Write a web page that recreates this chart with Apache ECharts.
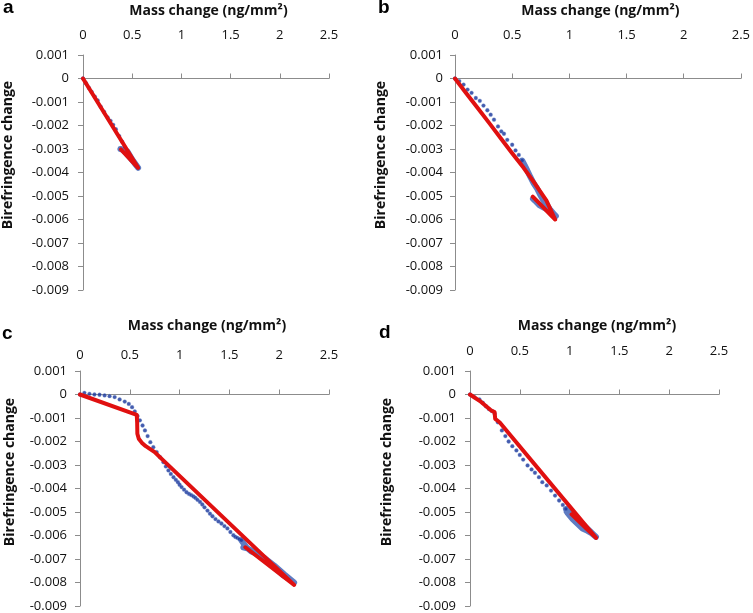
<!DOCTYPE html>
<html>
<head>
<meta charset="utf-8">
<script src="https://cdn.jsdelivr.net/npm/echarts@6/dist/echarts.min.js"></script>
<style>html,body{margin:0;padding:0;background:#fff}#c{width:753px;height:613px}</style>
</head>
<body>
<div id="c"></div>
<script>
// ---- data (x: mass change ng/mm², y: birefringence change) ----
const xTicks = [0, 0.5, 1, 1.5, 2, 2.5];
const yTicks = [0.001, 0, -0.001, -0.002, -0.003, -0.004, -0.005, -0.006, -0.007, -0.008, -0.009];
const panelLetters = ['a', 'b', 'c', 'd'];
const xTitle = 'Mass change (ng/mm²)';
const yTitle = 'Birefringence change';

// panel a
const aMeasured = [[0,0],[0.03,-0.0002],[0.06,-0.0004],[0.088,-0.00057],[0.12,-0.00077],[0.149,-0.00093],[0.18,-0.0012],[0.215,-0.00142],[0.25,-0.00165],[0.28,-0.0018],[0.307,-0.00197],[0.334,-0.00216],[0.368,-0.00245],[0.398,-0.00269],[0.426,-0.00293],[0.45,-0.0031],[0.48,-0.0033],[0.51,-0.0035],[0.54,-0.0037],[0.56,-0.0038]];
const aMeasuredDense = [[0.45,-0.0031],[0.5,-0.00345],[0.56,-0.0038],[0.52,-0.00358],[0.48,-0.00338],[0.44,-0.00318],[0.40,-0.00302],[0.38,-0.0030]];
const aModel = [[0,0],[0.56,-0.0038],[0.385,-0.00302]];

// panel b
const bMeasured = [[0,0],[0.0376,-0.00011],[0.075,-0.00026],[0.11,-0.00047],[0.145,-0.00061],[0.182,-0.00083],[0.217,-0.00095],[0.249,-0.00115],[0.283,-0.00135],[0.312,-0.00154],[0.341,-0.00175],[0.376,-0.00204],[0.405,-0.00225],[0.428,-0.00235],[0.457,-0.00261],[0.5,-0.00282],[0.529,-0.00306],[0.558,-0.00325],[0.587,-0.00349]];
const bMeasuredDense = [[0.587,-0.00349],[0.61,-0.0037],[0.63,-0.00389],[0.66,-0.0042],[0.688,-0.00446],[0.72,-0.0047],[0.746,-0.00496],[0.775,-0.0052],[0.804,-0.00538],[0.835,-0.0056],[0.861,-0.00574],[0.882,-0.00585],[0.86,-0.0058],[0.82,-0.0056],[0.78,-0.0055],[0.74,-0.0054],[0.70,-0.0052],[0.682,-0.00512]];
const bModel = [[0,0],[0.1,-0.00064],[0.2,-0.00127],[0.3,-0.0019],[0.4,-0.00254],[0.5,-0.00318],[0.6,-0.0038],[0.7,-0.00448],[0.8,-0.0052],[0.876,-0.006],[0.68,-0.00503]];

// panel c
const cMeasured = [[0,0],[0.044,0.00007],[0.095,0.00003],[0.145,0],[0.196,-0.00001],[0.247,-0.00004],[0.297,-0.00007],[0.348,-0.00011],[0.398,-0.00021],[0.449,-0.0003],[0.49,-0.0004],[0.523,-0.00054],[0.55,-0.00072],[0.578,-0.00092],[0.601,-0.0011],[0.628,-0.00132],[0.652,-0.00153],[0.679,-0.00177],[0.706,-0.00203],[0.736,-0.00224],[0.77,-0.00245],[0.804,-0.00267],[0.838,-0.00288],[0.862,-0.00306],[0.888,-0.00323],[0.912,-0.00338],[0.939,-0.00352],[0.962,-0.00363],[0.983,-0.00373],[1.0,-0.00384],[1.02,-0.00394],[1.045,-0.00405],[1.07,-0.00416],[1.095,-0.00423],[1.117,-0.00428],[1.14,-0.00434],[1.16,-0.0044],[1.18,-0.00448],[1.205,-0.00457],[1.228,-0.00468],[1.25,-0.0048],[1.28,-0.00494],[1.305,-0.00507],[1.33,-0.00518],[1.36,-0.0053],[1.39,-0.0054],[1.42,-0.00549],[1.45,-0.0056],[1.48,-0.0057],[1.51,-0.00585],[1.54,-0.00599],[1.56,-0.00606],[1.58,-0.0061],[1.6,-0.00615],[1.62,-0.0062]];
const cMeasuredDense = [[1.62,-0.0062],[1.67,-0.0065],[1.72,-0.00668],[1.77,-0.00677],[1.84,-0.007],[1.91,-0.0072],[1.98,-0.00745],[2.04,-0.00769],[2.1,-0.00785],[2.15,-0.008],[2.05,-0.00765],[1.95,-0.00728],[1.85,-0.00695],[1.75,-0.0067],[1.68,-0.00655],[1.64,-0.0065]];
const cModel = [[0,0],[0.57,-0.00087],[0.574,-0.0012],[0.576,-0.00167],[0.59,-0.00188],[0.62,-0.00205],[0.66,-0.0022],[0.75,-0.00245],[0.82,-0.00274],[2.15,-0.0081],[1.66,-0.0065]];

// panel d
const dMeasured = [[0,0],[0.044,-0.00011],[0.095,-0.00021],[0.128,-0.00035],[0.16,-0.0005],[0.19,-0.00062],[0.22,-0.0007],[0.247,-0.00082],[0.28,-0.00118],[0.32,-0.00153],[0.355,-0.00177],[0.388,-0.002],[0.425,-0.0022],[0.466,-0.00238],[0.5,-0.00257],[0.534,-0.00277],[0.578,-0.00302],[0.618,-0.00319],[0.652,-0.00333],[0.692,-0.00352],[0.726,-0.00373],[0.77,-0.00387],[0.814,-0.00409],[0.854,-0.0043],[0.895,-0.00451],[0.932,-0.0047],[0.963,-0.00487]];
const dMeasuredDense = [[0.963,-0.00487],[0.98,-0.00505],[1.03,-0.0053],[1.08,-0.0055],[1.13,-0.0057],[1.18,-0.0058],[1.22,-0.0059],[1.265,-0.00606],[1.2,-0.0058],[1.1,-0.0054],[1.0,-0.005],[0.97,-0.00498]];
const dModel = [[0,0],[0.1,-0.00028],[0.213,-0.00068],[0.247,-0.00075],[0.253,-0.00104],[0.297,-0.00118],[1.265,-0.0061],[1.02,-0.0051]];

// ---- layout ----
const grids = [
  {left: 80, top: 55, width: 249, height: 235, labelMargin: 13, nameGap: 37, yNameGap: 68, yLabelMargin: 14, yShift: 35},
  {left: 455, top: 55, width: 287, height: 235, labelMargin: 13, nameGap: 37, yNameGap: 67, yLabelMargin: 12, yShift: 35},
  {left: 80, top: 371, width: 249, height: 235, labelMargin: 9, nameGap: 38, yNameGap: 63, yLabelMargin: 13, yShift: 33},
  {left: 470, top: 371, width: 249, height: 235, labelMargin: 13, nameGap: 38, yNameGap: 76, yLabelMargin: 14, yShift: 33}
];
const panels = [
  [aMeasured, aMeasuredDense, aModel],
  [bMeasured, bMeasuredDense, bModel],
  [cMeasured, cMeasuredDense, cModel],
  [dMeasured, dMeasuredDense, dModel]
];
const letterPos = [[3, 8.5], [378, 8.5], [2, 334.5], [379, 333.5]];

const FONT = '"Open Sans", "Liberation Sans", sans-serif';
const AXIS_COLOR = '#8c8c8c';
const TEXT_COLOR = '#111';

const xStep = xTicks[1] - xTicks[0];
const yStep = yTicks[0] - yTicks[1];
const yMin = yTicks[yTicks.length - 1];
const yMax = yTicks[0];

const option = {
  animation: false,
  backgroundColor: '#fff',
  grid: grids.map(g => ({left: g.left, top: g.top, width: g.width, height: g.height, containLabel: false})),
  xAxis: [],
  yAxis: [],
  series: [],
  graphic: panelLetters.map((t, i) => ({
    type: 'text', left: letterPos[i][0], top: letterPos[i][1] - 10,
    style: {text: t, font: 'bold 19px "Liberation Sans", Arial, sans-serif', fill: '#000'}
  }))
};

grids.forEach((g, i) => {
  // labelled top axis
  option.xAxis.push({
    type: 'value', gridIndex: i, position: 'top',
    min: xTicks[0], max: xTicks[xTicks.length - 1], interval: xStep,
    name: xTitle, nameLocation: 'middle', nameGap: g.nameGap,
    nameTextStyle: {fontFamily: FONT, fontWeight: 'bold', fontSize: 14, color: TEXT_COLOR, padding: [0, 0, 0, 5]},
    axisLine: {show: false, onZero: false},
    axisTick: {show: false},
    splitLine: {show: false},
    axisLabel: {fontFamily: FONT, fontSize: 13, color: TEXT_COLOR, margin: g.labelMargin}
  });
  // axis line crossing at zero
  option.xAxis.push({
    type: 'value', gridIndex: i, position: 'bottom',
    min: xTicks[0], max: xTicks[xTicks.length - 1], interval: xStep,
    axisLine: {show: true, onZero: true, lineStyle: {color: AXIS_COLOR, width: 1}},
    axisTick: {show: true, inside: true, length: 5, lineStyle: {color: AXIS_COLOR}},
    axisLabel: {show: false},
    splitLine: {show: false}
  });
  option.yAxis.push({
    type: 'value', gridIndex: i,
    min: yMin, max: yMax, interval: yStep,
    name: yTitle, nameLocation: 'middle', nameGap: g.yNameGap,
    nameTextStyle: {fontFamily: FONT, fontWeight: 'bold', fontSize: 14, color: TEXT_COLOR, padding: [0, 0, 0, g.yShift]},
    axisLine: {show: true, onZero: false, lineStyle: {color: AXIS_COLOR, width: 1}},
    axisTick: {show: true, inside: false, length: 5, lineStyle: {color: AXIS_COLOR}},
    splitLine: {show: false},
    axisLabel: {fontFamily: FONT, fontSize: 13, color: TEXT_COLOR, margin: g.yLabelMargin,
      formatter: v => String(Math.round(v * 1000) / 1000)}
  });
  const [meas, dense, model] = panels[i];
  option.series.push({
    type: 'line', xAxisIndex: i * 2, yAxisIndex: i, data: dense,
    showSymbol: false, symbol: 'none', smooth: false,
    lineStyle: {color: '#5f7cc2', width: 6, join: 'round', cap: 'round'}, z: 2
  });
  option.series.push({
    type: 'scatter', xAxisIndex: i * 2, yAxisIndex: i, data: meas,
    symbol: 'circle', symbolSize: 3.8,
    itemStyle: {color: '#15329a', borderColor: 'rgba(110,140,205,0.7)', borderWidth: 0.6}, z: 3
  });
  option.series.push({
    type: 'line', xAxisIndex: i * 2, yAxisIndex: i, data: model,
    showSymbol: false, symbol: 'none',
    lineStyle: {color: '#e01010', width: 4, join: 'round', cap: 'round'}, z: 4
  });
});

const chart = echarts.init(document.getElementById('c'), null, {renderer: 'canvas'});
chart.setOption(option);
</script>
</body>
</html>
